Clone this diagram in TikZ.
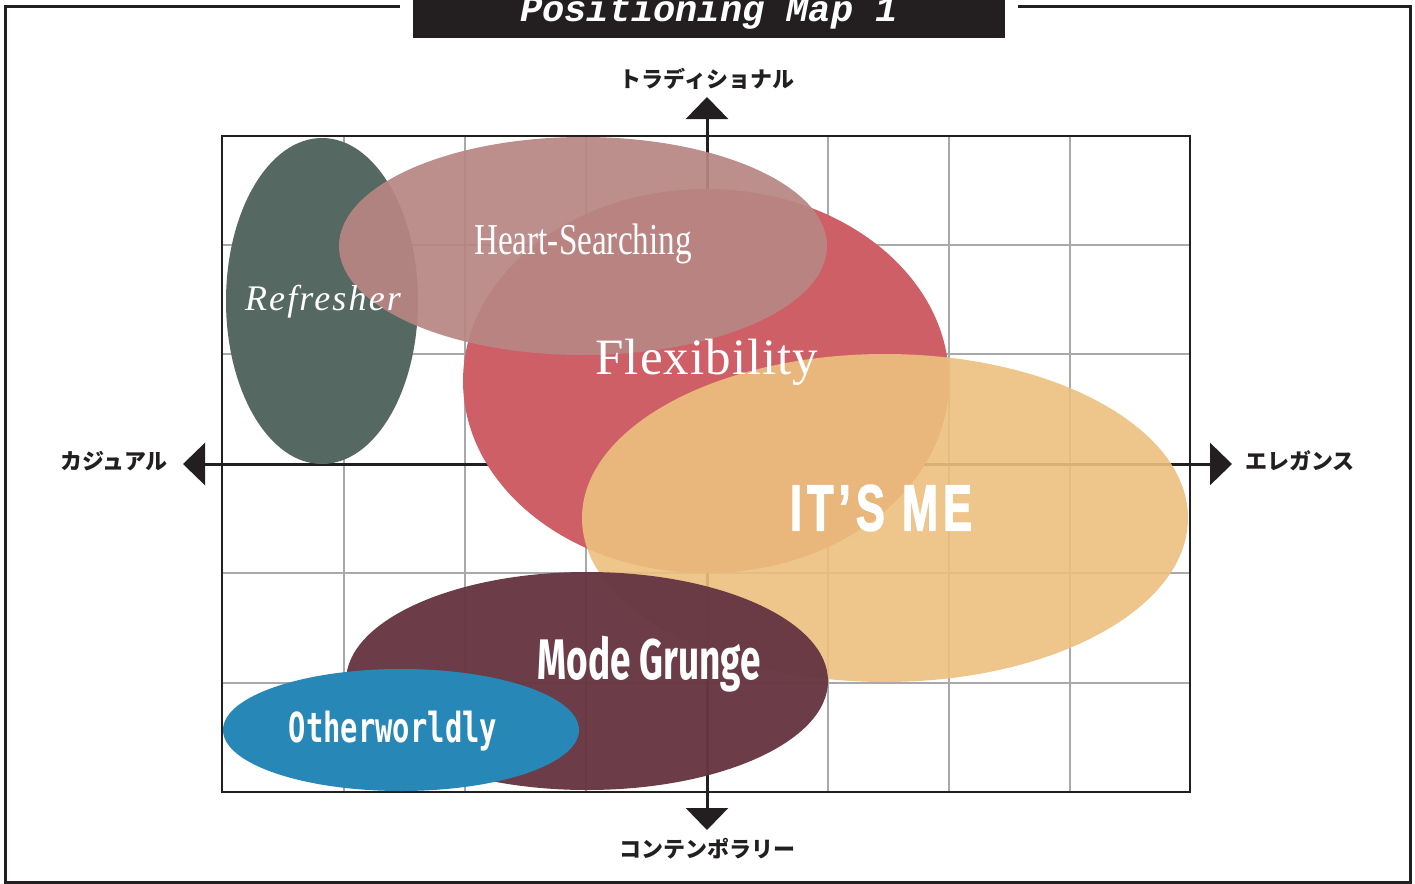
\documentclass[tikz,border=0pt]{standalone}
\usepackage{fontspec}
\usepackage{graphicx}
\usetikzlibrary{arrows.meta,positioning}
\newfontfamily\jpfont{Noto Sans CJK JP}
\newfontfamily\titlefont{Liberation Mono}
\newfontfamily\heartfont{Liberation Serif}
\newfontfamily\flexfont[LetterSpace=2]{Liberation Serif}
\newfontfamily\refreshfont[LetterSpace=6]{Liberation Serif}
\newfontfamily\heavyfont[LetterSpace=12,FakeBold=2.5]{Liberation Sans}
\newfontfamily\grungefont{Fira Sans}
\newfontfamily\otherfont{DejaVu Sans Mono}
\definecolor{ink}{HTML}{231F20}
\definecolor{gridgray}{HTML}{A7A9AC}
\definecolor{refreshcol}{HTML}{566862}
\definecolor{heartcol}{HTML}{B78684}
\definecolor{flexcol}{HTML}{CF5F66}
\definecolor{itsmecol}{HTML}{ECC07E}
\definecolor{grungecol}{HTML}{673743}
\definecolor{othercol}{HTML}{2788B8}
\tikzset{
  frame/.style={draw=ink, line width=1.5pt},
  gridline/.style={draw=gridgray, line width=0.75pt},
  boxline/.style={draw=ink, line width=1pt},
  axis/.style={draw=ink, line width=1.5pt, {Triangle[length=11pt,width=21pt]}-{Triangle[length=11pt,width=21pt]}},
  axislbl/.style={font=\jpfont\bfseries\fontsize{11}{13}\selectfont, text=ink, inner sep=0pt},
  maplbl/.style={text=white, inner sep=0pt}
}
\begin{document}
\begin{tikzpicture}[x=0.5pt,y=-0.5pt]
  \useasboundingbox (0,0) rectangle (1415,884);
  % frame and title
  \draw[frame] (400,6) -| (5,882) -| (1410,6) -- (1018,6);
  \fill[ink] (413,-20) rectangle (1005,38);
  \node[maplbl, font=\titlefont\bfseries\itshape\fontsize{18.5}{20}\selectfont] (title) at (709,12) {Positioning Map 1};
  % grid
  \draw[gridline] foreach \x in {344,465,586,707,828,949,1070} {(\x,136) -- (\x,792)};
  \draw[gridline] foreach \y in {245,354,573,683} {(222,\y) -- (1190,\y)};
  \draw[boxline] (222,136) rectangle (1190,792);
  % axes
  \coordinate (west) at (183,464);
  \coordinate (east) at (1232,464);
  \coordinate (north) at (707,97);
  \coordinate (south) at (707,830);
  \draw[axis] (west) -- (east);
  \draw[axis] (south) -- (north);
  \node[axislbl] (trad) at (707,79) {トラディショナル};
  \node[axislbl] (casual) at (114,461) {カジュアル};
  \node[axislbl] (elegance) at (1300,461) {エレガンス};
  \node[axislbl] (contemp) at (707,849) {コンテンポラリー};
  % clusters
  \fill[flexcol] (706,381) ellipse [x radius=121.5pt, y radius=96pt];
  \fill[refreshcol] (322,301) ellipse [x radius=48pt, y radius=81.5pt];
  \fill[heartcol, fill opacity=0.93] (583,246) ellipse [x radius=122pt, y radius=54.5pt];
  \fill[itsmecol, fill opacity=0.9] (885,518) ellipse [x radius=151.5pt, y radius=82pt];
  \fill[grungecol, fill opacity=0.97] (587,681) ellipse [x radius=120.5pt, y radius=54.5pt];
  \fill[othercol] (401,730) ellipse [x radius=89pt, y radius=30.5pt];
  % cluster names
  \node[maplbl, font=\refreshfont\itshape\fontsize{18}{20}\selectfont] (refresher) at (323,302) {Refresher};
  \node[maplbl, font=\heartfont\fontsize{21}{24}\selectfont] (heart) at (583,244) {\scalebox{0.79}[1.05]{Heart-Searching}};
  \node[maplbl, font=\flexfont\fontsize{25.5}{28}\selectfont] (flex) at (707,362) {Flexibility};
  \node[maplbl, font=\heavyfont\bfseries\fontsize{30}{32}\selectfont] (itsme) at (881,508) {\scalebox{0.72}[1.08]{IT’S ME}};
  \node[maplbl, font=\grungefont\bfseries\fontsize{22}{24}\selectfont] (grunge) at (649,664) {\scalebox{0.84}[1.3]{Mode Grunge}};
  \node[maplbl, font=\otherfont\bfseries\fontsize{18}{20}\selectfont] (other) at (393,731) {\scalebox{0.8}[1.15]{Otherworldly}};
\end{tikzpicture}
\end{document}
